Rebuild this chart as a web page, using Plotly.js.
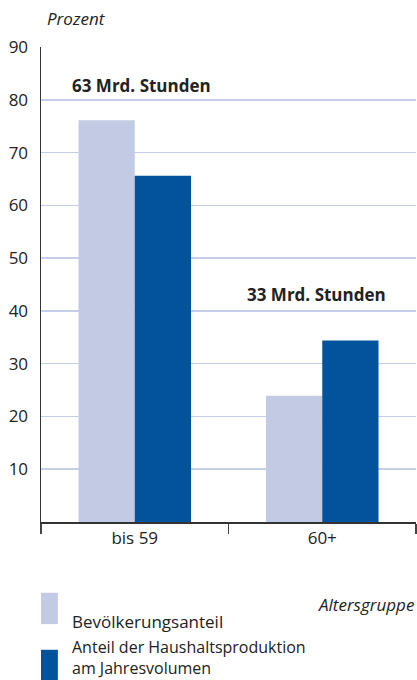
<!DOCTYPE html>
<html><head><meta charset="utf-8">
<script src="https://cdn.plot.ly/plotly-3.0.1.min.js"></script>
<style>html,body{margin:0;padding:0;background:#fff}#c{width:417px;height:680px}</style>
</head><body><div id="c"></div>
<script>
const categories = ["bis 59", "60+"];
const bevoelkerung = [76.1, 23.9];
const haushalt = [65.6, 34.4];
const yTicks = [10, 20, 30, 40, 50, 60, 70, 80, 90];
const totals = ["63 Mrd. Stunden", "33 Mrd. Stunden"];
const seriesNames = ["Bevölkerungsanteil", "Anteil der Haushaltsproduktion<br>am Jahresvolumen"];

const light = '#c3cae3', dark = '#02529c';
const F = '"Open Sans", "Noto Sans", sans-serif';

const traces = [
  {type:'bar', x:categories, y:bevoelkerung, name:seriesNames[0], marker:{color:light}, hoverinfo:'skip'},
  {type:'bar', x:categories, y:haushalt, name:seriesNames[1], marker:{color:dark}, hoverinfo:'skip'}
];

const yBase = {range:[0,90], fixedrange:true, zeroline:false};
const layout = {
  width:417, height:680, margin:{l:41, r:1, t:47, b:158},
  paper_bgcolor:'#fff', plot_bgcolor:'#fff', showlegend:false,
  barmode:'group', bargap:0.4, bargroupgap:0,
  font:{family:F, color:'#222', size:17},
  xaxis:{type:'category', tickson:'boundaries', ticks:'outside', ticklen:10, tickcolor:'#444', tickwidth:1.2,
    showline:true, linecolor:'#333', linewidth:1.5, showgrid:false, tickfont:{size:17, color:'#222'}},
  yaxis:Object.assign({}, yBase, {tickvals:yTicks, ticktext:yTicks.map(String), ticks:'outside', ticklen:8, tickcolor:'rgba(0,0,0,0)',
    showline:true, linecolor:'#333', linewidth:1.5, showgrid:true, gridcolor:'#c5cde8', gridwidth:1.5,
    tickfont:{size:17, color:'#222'}}),
  yaxis2:Object.assign({}, yBase, {overlaying:'y', tickvals:[60,70], showticklabels:false, showgrid:true, gridcolor:'#8ea6d3', gridwidth:1.5, showline:false}),
  yaxis3:Object.assign({}, yBase, {overlaying:'y', tickvals:[80,90], showticklabels:false, showgrid:true, gridcolor:'#3c6fae', gridwidth:1.5, showline:false}),
  annotations:[
    {xref:'paper', yref:'paper', x:0.01, y:1, yshift:29, xanchor:'left', yanchor:'middle', text:'<i>Prozent</i>', showarrow:false, font:{size:17, color:'#222'}},
    {xref:'x', yref:'paper', x:categories[0], y:0.918, xshift:7, xanchor:'center', yanchor:'middle', text:'<b>'+totals[0]+'</b>', showarrow:false, font:{size:17, color:'#222'}},
    {xref:'x', yref:'paper', x:categories[1], y:0.478, xshift:-6, xanchor:'center', yanchor:'middle', text:'<b>'+totals[1]+'</b>', showarrow:false, font:{size:17, color:'#222'}},
    {xref:'paper', yref:'paper', x:1, y:0, yshift:-82, xanchor:'right', yanchor:'middle', text:'<i>Altersgruppe</i>', showarrow:false, font:{size:17, color:'#222'}},
    {xref:'paper', yref:'paper', x:0.077, y:0, yshift:-99, xanchor:'left', yanchor:'middle', text:seriesNames[0], showarrow:false, font:{size:17, color:'#222'}},
    {xref:'paper', yref:'paper', x:0.077, y:0, yshift:-112, xanchor:'left', yanchor:'top', align:'left', text:seriesNames[1], showarrow:false, font:{size:16, color:'#222'}}
  ],
  shapes:[
    {type:'rect', xref:'paper', yref:'paper', x0:0, x1:0.045, y0:-0.215, y1:-0.149, line:{width:0}, fillcolor:light},
    {type:'rect', xref:'paper', yref:'paper', x0:0, x1:0.045, y0:-0.335, y1:-0.269, line:{width:0}, fillcolor:dark}
  ]
};
Plotly.newPlot('c', traces, layout, {staticPlot:true});
</script></body></html>
